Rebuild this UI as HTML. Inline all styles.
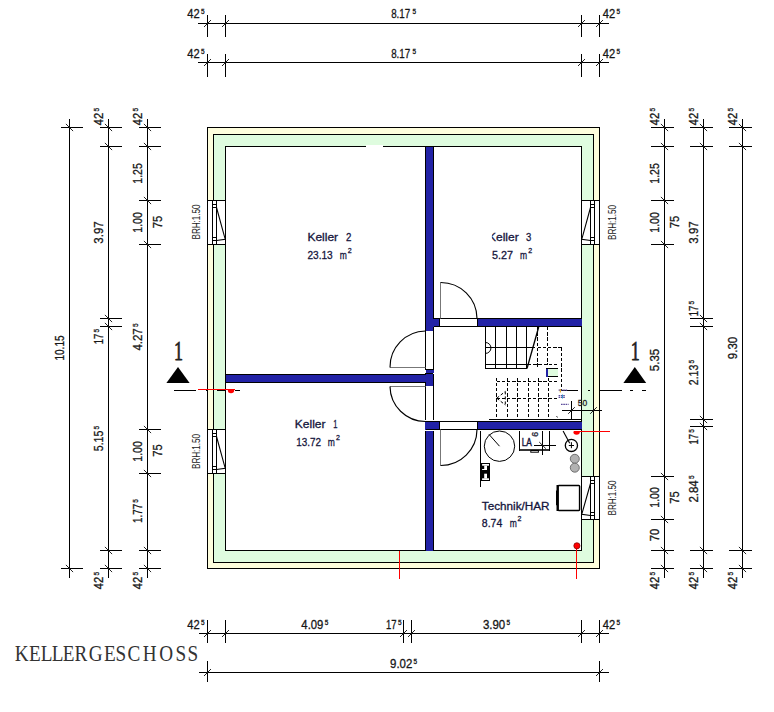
<!DOCTYPE html>
<html lang="de"><head><meta charset="utf-8"><title>Kellergeschoss</title>
<style>
html,body{margin:0;padding:0;background:#fff;}
body{width:774px;height:712px;overflow:hidden;}
svg{display:block;}
</style></head><body>
<svg width="774" height="712" viewBox="0 0 774 712">
<rect width="774" height="712" fill="#fff"/>
<g shape-rendering="crispEdges">
<rect x="207.5" y="127.5" width="392.0" height="441.0" fill="#fefedd" stroke="#000" stroke-width="1" />
<rect x="213.5" y="134.5" width="380.0" height="428.0" fill="#dffcdf" stroke="#000" stroke-width="1" />
<rect x="225.5" y="146.5" width="356.0" height="404.0" fill="#fff" stroke="#000" stroke-width="1" />
<rect x="366" y="145" width="17" height="3" fill="#fff" stroke="none" stroke-width="1" />
</g>
<g>
<rect x="207.5" y="200.5" width="18.0" height="44.0" fill="#fff" stroke="#000" stroke-width="1" shape-rendering="crispEdges"/>
<line x1="212.5" y1="200.5" x2="212.5" y2="244.5" stroke="#000" stroke-width="1" shape-rendering="crispEdges"/>
<line x1="216.5" y1="200.5" x2="216.5" y2="244.5" stroke="#000" stroke-width="1" shape-rendering="crispEdges"/>
<line x1="212.5" y1="204.5" x2="216.5" y2="204.5" stroke="#000" stroke-width="1" />
<line x1="212.5" y1="207.5" x2="216.5" y2="207.5" stroke="#000" stroke-width="1" />
<line x1="212.5" y1="237.5" x2="216.5" y2="237.5" stroke="#000" stroke-width="1" />
<line x1="212.5" y1="240.5" x2="216.5" y2="240.5" stroke="#000" stroke-width="1" />
<polyline points="216.5,207.5 225.2,239.2 216.5,240.5" fill="none" stroke="#000" stroke-width="1.1"/>
</g>
<g>
<rect x="207.5" y="429.5" width="18.0" height="44.0" fill="#fff" stroke="#000" stroke-width="1" shape-rendering="crispEdges"/>
<line x1="212.5" y1="429.5" x2="212.5" y2="473.5" stroke="#000" stroke-width="1" shape-rendering="crispEdges"/>
<line x1="216.5" y1="429.5" x2="216.5" y2="473.5" stroke="#000" stroke-width="1" shape-rendering="crispEdges"/>
<line x1="212.5" y1="433.5" x2="216.5" y2="433.5" stroke="#000" stroke-width="1" />
<line x1="212.5" y1="436.5" x2="216.5" y2="436.5" stroke="#000" stroke-width="1" />
<line x1="212.5" y1="466.5" x2="216.5" y2="466.5" stroke="#000" stroke-width="1" />
<line x1="212.5" y1="469.5" x2="216.5" y2="469.5" stroke="#000" stroke-width="1" />
<polyline points="216.5,436.5 225.2,468.2 216.5,469.5" fill="none" stroke="#000" stroke-width="1.1"/>
</g>
<g>
<rect x="581.5" y="200.5" width="18.0" height="44.0" fill="#fff" stroke="#000" stroke-width="1" shape-rendering="crispEdges"/>
<line x1="590.5" y1="200.5" x2="590.5" y2="244.5" stroke="#000" stroke-width="1" shape-rendering="crispEdges"/>
<line x1="594.5" y1="200.5" x2="594.5" y2="244.5" stroke="#000" stroke-width="1" shape-rendering="crispEdges"/>
<line x1="590.5" y1="204.5" x2="594.5" y2="204.5" stroke="#000" stroke-width="1" />
<line x1="590.5" y1="207.5" x2="594.5" y2="207.5" stroke="#000" stroke-width="1" />
<line x1="590.5" y1="237.5" x2="594.5" y2="237.5" stroke="#000" stroke-width="1" />
<line x1="590.5" y1="240.5" x2="594.5" y2="240.5" stroke="#000" stroke-width="1" />
<polyline points="590.5,207.5 581.8,239.2 590.5,240.5" fill="none" stroke="#000" stroke-width="1.1"/>
</g>
<g>
<rect x="581.5" y="476.5" width="18.0" height="43.0" fill="#fff" stroke="#000" stroke-width="1" shape-rendering="crispEdges"/>
<line x1="590.5" y1="476.5" x2="590.5" y2="519.5" stroke="#000" stroke-width="1" shape-rendering="crispEdges"/>
<line x1="594.5" y1="476.5" x2="594.5" y2="519.5" stroke="#000" stroke-width="1" shape-rendering="crispEdges"/>
<line x1="590.5" y1="480.5" x2="594.5" y2="480.5" stroke="#000" stroke-width="1" />
<line x1="590.5" y1="483.5" x2="594.5" y2="483.5" stroke="#000" stroke-width="1" />
<line x1="590.5" y1="512.5" x2="594.5" y2="512.5" stroke="#000" stroke-width="1" />
<line x1="590.5" y1="515.5" x2="594.5" y2="515.5" stroke="#000" stroke-width="1" />
<polyline points="590.5,483.5 581.8,514.2 590.5,515.5" fill="none" stroke="#000" stroke-width="1.1"/>
</g>
<g shape-rendering="crispEdges">
<rect x="425.5" y="146.5" width="8.0" height="184.0" fill="#2222a6" stroke="none" stroke-width="1" />
<rect x="432.5" y="318.5" width="7.0" height="8.0" fill="#2222a6" stroke="none" stroke-width="1" />
<rect x="477.5" y="318.5" width="104.0" height="8.0" fill="#2222a6" stroke="none" stroke-width="1" />
<rect x="425.5" y="369.5" width="8.0" height="3.5" fill="#2222a6" stroke="none" stroke-width="1" />
<rect x="225.5" y="374.5" width="201.0" height="8.0" fill="#2222a6" stroke="none" stroke-width="1" />
<rect x="425.5" y="373.8" width="8.0" height="11.7" fill="#2222a6" stroke="none" stroke-width="1" />
<rect x="425.0" y="421.5" width="14.5" height="8.0" fill="#2222a6" stroke="none" stroke-width="1" />
<rect x="477.5" y="421.5" width="104.0" height="8.0" fill="#2222a6" stroke="none" stroke-width="1" />
<rect x="425.5" y="431" width="8.0" height="119.5" fill="#2222a6" stroke="none" stroke-width="1" />
<line x1="425.5" y1="146.5" x2="425.5" y2="369.5" stroke="#000" stroke-width="1" />
<line x1="433.5" y1="146.5" x2="433.5" y2="318.5" stroke="#000" stroke-width="1" />
<line x1="433.5" y1="326.5" x2="433.5" y2="369.5" stroke="#000" stroke-width="1" />
<line x1="433.5" y1="318.5" x2="581.5" y2="318.5" stroke="#000" stroke-width="1" />
<line x1="433.5" y1="326.5" x2="581.5" y2="326.5" stroke="#000" stroke-width="1" />
<line x1="439.5" y1="318.5" x2="439.5" y2="326.5" stroke="#000" stroke-width="1" />
<line x1="477.5" y1="318.5" x2="477.5" y2="326.5" stroke="#000" stroke-width="1" />
<line x1="425.5" y1="369.5" x2="433.5" y2="369.5" stroke="#000" stroke-width="1" />
<line x1="424.5" y1="373" x2="433" y2="373" stroke="#000" stroke-width="1" />
<line x1="225.5" y1="374.5" x2="425.5" y2="374.5" stroke="#000" stroke-width="1" />
<line x1="225.5" y1="382.5" x2="425.5" y2="382.5" stroke="#000" stroke-width="1" />
<line x1="433.5" y1="373.5" x2="433.5" y2="421.5" stroke="#000" stroke-width="1" />
<line x1="425.5" y1="382.5" x2="425.5" y2="421.5" stroke="#000" stroke-width="1" />
<line x1="425.5" y1="421.5" x2="581.5" y2="421.5" stroke="#000" stroke-width="1" />
<line x1="425.5" y1="429.5" x2="581.5" y2="429.5" stroke="#000" stroke-width="1" />
<line x1="439.5" y1="421.5" x2="439.5" y2="429.5" stroke="#000" stroke-width="1" />
<line x1="477.5" y1="421.5" x2="477.5" y2="429.5" stroke="#000" stroke-width="1" />
<line x1="425.5" y1="431" x2="425.5" y2="550.5" stroke="#000" stroke-width="1" />
<line x1="433.5" y1="431" x2="433.5" y2="550.5" stroke="#000" stroke-width="1" />
<line x1="425.0" y1="420.5" x2="434.0" y2="420.5" stroke="#fff" stroke-width="1" />
</g>
<line x1="440.5" y1="282.5" x2="440.5" y2="318.5" stroke="#777" stroke-width="1" />
<path d="M440.5,282.5 A36.2,36.2 0 0 1 477,318.5" fill="none" stroke="#000" stroke-width="1.15"/>
<line x1="390" y1="367.5" x2="425.5" y2="367.5" stroke="#777" stroke-width="1" />
<path d="M425.5,331 A36,36 0 0 0 390,367.5" fill="none" stroke="#000" stroke-width="1.15"/>
<line x1="390" y1="386.5" x2="425.5" y2="386.5" stroke="#777" stroke-width="1" />
<path d="M390,386.5 A35.5,35.5 0 0 0 425.5,421.5" fill="none" stroke="#000" stroke-width="1.15"/>
<line x1="440.5" y1="429.5" x2="440.5" y2="465.5" stroke="#777" stroke-width="1" />
<path d="M440.5,465.5 A36.2,36.2 0 0 0 477,429.5" fill="none" stroke="#000" stroke-width="1.15"/>
<g>
<line x1="485.5" y1="327" x2="485.5" y2="368.5" stroke="#000" stroke-width="1" shape-rendering="crispEdges"/>
<line x1="495.5" y1="327" x2="495.5" y2="368.5" stroke="#000" stroke-width="1" shape-rendering="crispEdges"/>
<line x1="506.5" y1="327" x2="506.5" y2="368.5" stroke="#000" stroke-width="1" shape-rendering="crispEdges"/>
<line x1="516.5" y1="327" x2="516.5" y2="368.5" stroke="#000" stroke-width="1" shape-rendering="crispEdges"/>
<line x1="526.5" y1="327" x2="526.5" y2="368.5" stroke="#000" stroke-width="1" shape-rendering="crispEdges"/>
<line x1="485.5" y1="347.5" x2="535" y2="347.5" stroke="#000" stroke-width="1" shape-rendering="crispEdges"/>
<line x1="485.5" y1="364.5" x2="528.5" y2="364.5" stroke="#000" stroke-width="1" shape-rendering="crispEdges"/>
<line x1="485.5" y1="368.5" x2="527" y2="368.5" stroke="#000" stroke-width="1" shape-rendering="crispEdges"/>
<line x1="538.7" y1="327" x2="527" y2="368.5" stroke="#000" stroke-width="1.3" />
<path d="M485.5,342.5 A5.4,5.4 0 0 1 485.5,353.4" fill="none" stroke="#000" stroke-width="1"/>
<line x1="537.5" y1="327" x2="537.5" y2="368" stroke="#000" stroke-width="1" stroke-dasharray="3.4 1.8" shape-rendering="crispEdges"/>
<line x1="547.5" y1="327" x2="547.5" y2="364.5" stroke="#000" stroke-width="1" stroke-dasharray="3.4 1.8" shape-rendering="crispEdges"/>
<line x1="561.5" y1="347.5" x2="561.5" y2="389.5" stroke="#000" stroke-width="1" stroke-dasharray="3.4 1.8" shape-rendering="crispEdges"/>
<line x1="537.5" y1="347.5" x2="561.5" y2="347.5" stroke="#000" stroke-width="1" stroke-dasharray="3.4 1.8" shape-rendering="crispEdges"/>
<line x1="528" y1="364.5" x2="559" y2="364.5" stroke="#000" stroke-width="1" stroke-dasharray="3.4 1.8" shape-rendering="crispEdges"/>
<rect x="546.5" y="369" width="11.5" height="7.5" fill="#dffcdf" stroke="none" stroke-width="1" />
<line x1="546" y1="368.5" x2="558" y2="368.5" stroke="#000" stroke-width="1" shape-rendering="crispEdges"/>
<line x1="546" y1="376.5" x2="558" y2="376.5" stroke="#000" stroke-width="1" shape-rendering="crispEdges"/>
<line x1="547" y1="368.5" x2="547" y2="376.5" stroke="#2222a6" stroke-width="2" shape-rendering="crispEdges"/>
<line x1="496.5" y1="377.5" x2="496.5" y2="418.5" stroke="#000" stroke-width="1" stroke-dasharray="3.4 1.8" shape-rendering="crispEdges"/>
<line x1="507.5" y1="377.5" x2="507.5" y2="418.5" stroke="#000" stroke-width="1" stroke-dasharray="3.4 1.8" shape-rendering="crispEdges"/>
<line x1="517.5" y1="377.5" x2="517.5" y2="418.5" stroke="#000" stroke-width="1" stroke-dasharray="3.4 1.8" shape-rendering="crispEdges"/>
<line x1="528.5" y1="377.5" x2="528.5" y2="418.5" stroke="#000" stroke-width="1" stroke-dasharray="3.4 1.8" shape-rendering="crispEdges"/>
<line x1="538.5" y1="377.5" x2="538.5" y2="418.5" stroke="#000" stroke-width="1" stroke-dasharray="3.4 1.8" shape-rendering="crispEdges"/>
<line x1="548.5" y1="377.5" x2="548.5" y2="418.5" stroke="#000" stroke-width="1" stroke-dasharray="3.4 1.8" shape-rendering="crispEdges"/>
<line x1="496.5" y1="381.5" x2="558.5" y2="381.5" stroke="#000" stroke-width="1" stroke-dasharray="3.4 1.8" shape-rendering="crispEdges"/>
<line x1="496.5" y1="398.5" x2="558.5" y2="398.5" stroke="#000" stroke-width="1" stroke-dasharray="3.4 1.8" shape-rendering="crispEdges"/>
<line x1="496.8" y1="398.2" x2="505.3" y2="391.4" stroke="#000" stroke-width="1" stroke-dasharray="3 2"/>
<line x1="496.8" y1="398.2" x2="505.3" y2="405" stroke="#000" stroke-width="1" stroke-dasharray="3 2"/>
<line x1="505.3" y1="391.4" x2="505.3" y2="405" stroke="#000" stroke-width="1" stroke-dasharray="3 2"/>
<line x1="489" y1="419.5" x2="581.5" y2="419.5" stroke="#000" stroke-width="1" shape-rendering="crispEdges"/>
</g>
<g>
<circle cx="499.5" cy="446.2" r="15.2" fill="#fff" stroke="#000" stroke-width="1"/>
<line x1="489" y1="434.4" x2="499.5" y2="446.2" stroke="#000" stroke-width="1" />
<line x1="480.5" y1="431" x2="480.5" y2="487" stroke="#000" stroke-width="1" shape-rendering="crispEdges"/>
<rect x="480" y="463" width="10" height="18" fill="#000" stroke="none" stroke-width="1" />
<rect x="482.1" y="464" width="6.9" height="1.7" fill="#fff" stroke="none" stroke-width="1" />
<rect x="484.2" y="465.7" width="2.8" height="4.3" fill="#fff" stroke="none" stroke-width="1" />
<rect x="482.1" y="469" width="3.9" height="1" fill="#fff" stroke="none" stroke-width="1" />
<rect x="484.2" y="473.7" width="2.8" height="4.8" fill="#fff" stroke="none" stroke-width="1" />
<rect x="482.1" y="478.3" width="6.9" height="1.7" fill="#fff" stroke="none" stroke-width="1" />
<line x1="519.5" y1="431" x2="519.5" y2="450.5" stroke="#000" stroke-width="1" shape-rendering="crispEdges"/>
<line x1="519" y1="450" x2="550" y2="450" stroke="#000" stroke-width="1.6" />
<line x1="542.5" y1="431" x2="542.5" y2="455" stroke="#000" stroke-width="1" shape-rendering="crispEdges"/>
<line x1="549.5" y1="431" x2="549.5" y2="450.5" stroke="#000" stroke-width="1" shape-rendering="crispEdges"/>
<rect x="530.8" y="450.5" width="7.6" height="1.7" fill="#fff" stroke="#000" stroke-width="1" />
<line x1="534" y1="445.5" x2="556" y2="445.5" stroke="#000" stroke-width="1" shape-rendering="crispEdges"/>
<line x1="539.2" y1="442" x2="545.8" y2="448.6" stroke="#222" stroke-width="1" />
<circle cx="571.4" cy="445.4" r="6.1" fill="#fff" stroke="#000" stroke-width="1.3"/>
<line x1="563.1" y1="431" x2="569.7" y2="443.2" stroke="#000" stroke-width="1.1" />
<line x1="568.8" y1="445.5" x2="574" y2="445.5" stroke="#000" stroke-width="1" />
<line x1="571.4" y1="442.2" x2="571.4" y2="448.2" stroke="#000" stroke-width="1" />
<circle cx="574.8" cy="458.8" r="4.5" fill="#b2b2b2" stroke="#666" stroke-width="0.9"/>
<circle cx="574.8" cy="467.7" r="4.5" fill="#b2b2b2" stroke="#666" stroke-width="0.9"/>
<rect x="558" y="485.4" width="21.6" height="25.0" fill="#fff" stroke="#000" stroke-width="1.5" rx="0.8"/>
<line x1="557.6" y1="485" x2="557.6" y2="511" stroke="#000" stroke-width="2.2" />
<line x1="556.6" y1="490.4" x2="556.6" y2="505.2" stroke="#000" stroke-width="1.2" />
</g>
<polygon points="178,367 166.4,383 189.6,383" fill="#000"/>
<polygon points="634.8,367 623.4,383 646.1999999999999,383" fill="#000"/>
<line x1="174" y1="390.5" x2="196" y2="390.5" stroke="#000" stroke-width="1" shape-rendering="crispEdges"/>
<line x1="205.5" y1="390.5" x2="208" y2="390.5" stroke="#000" stroke-width="1" shape-rendering="crispEdges"/>
<line x1="217" y1="390.5" x2="226" y2="390.5" stroke="#000" stroke-width="1" shape-rendering="crispEdges"/>
<line x1="234.5" y1="390.5" x2="240" y2="390.5" stroke="#000" stroke-width="1" shape-rendering="crispEdges"/>
<line x1="198" y1="389.5" x2="234.5" y2="389.5" stroke="#f00" stroke-width="1" shape-rendering="crispEdges"/>
<path d="M227.8,390 A3.2,3.2 0 0 0 234.2,390 Z" fill="#f00"/>
<line x1="560.5" y1="390.5" x2="578" y2="390.5" stroke="#000" stroke-width="1" shape-rendering="crispEdges"/>
<line x1="587.5" y1="390.5" x2="590" y2="390.5" stroke="#000" stroke-width="1" shape-rendering="crispEdges"/>
<line x1="599.5" y1="390.5" x2="622" y2="390.5" stroke="#000" stroke-width="1" shape-rendering="crispEdges"/>
<line x1="630" y1="390.5" x2="633" y2="390.5" stroke="#000" stroke-width="1" shape-rendering="crispEdges"/>
<line x1="642" y1="390.5" x2="646" y2="390.5" stroke="#000" stroke-width="1" shape-rendering="crispEdges"/>
<line x1="573.5" y1="431.5" x2="610" y2="431.5" stroke="#f00" stroke-width="1" shape-rendering="crispEdges"/>
<path d="M573.3,431.5 A3.3,3.3 0 0 0 579.9,431.5 Z" fill="#f00"/>
<line x1="399.5" y1="550.5" x2="399.5" y2="578.5" stroke="#f00" stroke-width="1" shape-rendering="crispEdges"/>
<line x1="576.5" y1="546" x2="576.5" y2="578.5" stroke="#f00" stroke-width="1" shape-rendering="crispEdges"/>
<circle cx="576.9" cy="545.8" r="3.1" fill="#f00" stroke="#700" stroke-width="0.7"/>
<line x1="558.6" y1="390.2" x2="567.5" y2="390.2" stroke="#5a4a9a" stroke-width="1.2" stroke-dasharray="1.6 0.7"/>
<line x1="558.6" y1="395.6" x2="565" y2="395.6" stroke="#5a4a9a" stroke-width="1.2" stroke-dasharray="1.6 0.7"/>
<line x1="558.6" y1="397.4" x2="565" y2="397.4" stroke="#5a4a9a" stroke-width="1.2" stroke-dasharray="1.6 0.7"/>
<line x1="561" y1="404.4" x2="568.6" y2="404.4" stroke="#5a4a9a" stroke-width="1.2" stroke-dasharray="1.6 0.7"/>
<line x1="560.3" y1="389" x2="560.3" y2="392.5" stroke="#d90" stroke-width="1" />
<line x1="562.5" y1="394.5" x2="562.5" y2="398.5" stroke="#39c" stroke-width="1" />
<line x1="556.5" y1="416" x2="557.5" y2="417.5" stroke="#333" stroke-width="1" />
<line x1="562" y1="410.5" x2="602" y2="410.5" stroke="#000" stroke-width="1" shape-rendering="crispEdges"/>
<line x1="571.5" y1="401" x2="571.5" y2="419.5" stroke="#000" stroke-width="1" shape-rendering="crispEdges"/>
<line x1="568.2" y1="413.8" x2="574.8" y2="407.2" stroke="#222" stroke-width="1" />
<line x1="590.2" y1="413.8" x2="596.8" y2="407.2" stroke="#222" stroke-width="1" />
<line x1="198" y1="23.5" x2="609" y2="23.5" stroke="#000" stroke-width="1" shape-rendering="crispEdges"/>
<line x1="207.5" y1="15.0" x2="207.5" y2="37.0" stroke="#000" stroke-width="1" shape-rendering="crispEdges"/>
<line x1="204.0" y1="27.0" x2="211.0" y2="20.0" stroke="#222" stroke-width="1" />
<line x1="225.5" y1="15.0" x2="225.5" y2="37.0" stroke="#000" stroke-width="1" shape-rendering="crispEdges"/>
<line x1="222.0" y1="27.0" x2="229.0" y2="20.0" stroke="#222" stroke-width="1" />
<line x1="581.5" y1="15.0" x2="581.5" y2="37.0" stroke="#000" stroke-width="1" shape-rendering="crispEdges"/>
<line x1="578.0" y1="27.0" x2="585.0" y2="20.0" stroke="#222" stroke-width="1" />
<line x1="599.5" y1="15.0" x2="599.5" y2="37.0" stroke="#000" stroke-width="1" shape-rendering="crispEdges"/>
<line x1="596.0" y1="27.0" x2="603.0" y2="20.0" stroke="#222" stroke-width="1" />
<line x1="198" y1="62.5" x2="609" y2="62.5" stroke="#000" stroke-width="1" shape-rendering="crispEdges"/>
<line x1="207.5" y1="54.0" x2="207.5" y2="76.8" stroke="#000" stroke-width="1" shape-rendering="crispEdges"/>
<line x1="204.0" y1="66.0" x2="211.0" y2="59.0" stroke="#222" stroke-width="1" />
<line x1="225.5" y1="54.0" x2="225.5" y2="76.8" stroke="#000" stroke-width="1" shape-rendering="crispEdges"/>
<line x1="222.0" y1="66.0" x2="229.0" y2="59.0" stroke="#222" stroke-width="1" />
<line x1="581.5" y1="54.0" x2="581.5" y2="76.8" stroke="#000" stroke-width="1" shape-rendering="crispEdges"/>
<line x1="578.0" y1="66.0" x2="585.0" y2="59.0" stroke="#222" stroke-width="1" />
<line x1="599.5" y1="54.0" x2="599.5" y2="76.8" stroke="#000" stroke-width="1" shape-rendering="crispEdges"/>
<line x1="596.0" y1="66.0" x2="603.0" y2="59.0" stroke="#222" stroke-width="1" />
<line x1="198.5" y1="633.5" x2="609" y2="633.5" stroke="#000" stroke-width="1" shape-rendering="crispEdges"/>
<line x1="207.5" y1="620.0" x2="207.5" y2="642.5" stroke="#000" stroke-width="1" shape-rendering="crispEdges"/>
<line x1="204.0" y1="637.0" x2="211.0" y2="630.0" stroke="#222" stroke-width="1" />
<line x1="225.5" y1="620.0" x2="225.5" y2="642.5" stroke="#000" stroke-width="1" shape-rendering="crispEdges"/>
<line x1="222.0" y1="637.0" x2="229.0" y2="630.0" stroke="#222" stroke-width="1" />
<line x1="403.5" y1="620.0" x2="403.5" y2="642.5" stroke="#000" stroke-width="1" shape-rendering="crispEdges"/>
<line x1="400.0" y1="637.0" x2="407.0" y2="630.0" stroke="#222" stroke-width="1" />
<line x1="411.5" y1="620.0" x2="411.5" y2="642.5" stroke="#000" stroke-width="1" shape-rendering="crispEdges"/>
<line x1="408.0" y1="637.0" x2="415.0" y2="630.0" stroke="#222" stroke-width="1" />
<line x1="581.5" y1="620.0" x2="581.5" y2="642.5" stroke="#000" stroke-width="1" shape-rendering="crispEdges"/>
<line x1="578.0" y1="637.0" x2="585.0" y2="630.0" stroke="#222" stroke-width="1" />
<line x1="599.5" y1="620.0" x2="599.5" y2="642.5" stroke="#000" stroke-width="1" shape-rendering="crispEdges"/>
<line x1="596.0" y1="637.0" x2="603.0" y2="630.0" stroke="#222" stroke-width="1" />
<line x1="198.5" y1="672.5" x2="609" y2="672.5" stroke="#000" stroke-width="1" shape-rendering="crispEdges"/>
<line x1="207.5" y1="660.5" x2="207.5" y2="681.5" stroke="#000" stroke-width="1" shape-rendering="crispEdges"/>
<line x1="204.0" y1="676.0" x2="211.0" y2="669.0" stroke="#222" stroke-width="1" />
<line x1="599.5" y1="660.5" x2="599.5" y2="681.5" stroke="#000" stroke-width="1" shape-rendering="crispEdges"/>
<line x1="596.0" y1="676.0" x2="603.0" y2="669.0" stroke="#222" stroke-width="1" />
<line x1="69.5" y1="119" x2="69.5" y2="577.5" stroke="#000" stroke-width="1" shape-rendering="crispEdges"/>
<line x1="61.0" y1="127.5" x2="83.0" y2="127.5" stroke="#000" stroke-width="1" shape-rendering="crispEdges"/>
<line x1="65.9" y1="123.9" x2="73.1" y2="131.1" stroke="#222" stroke-width="1" />
<line x1="61.0" y1="568.5" x2="83.0" y2="568.5" stroke="#000" stroke-width="1" shape-rendering="crispEdges"/>
<line x1="65.9" y1="564.9" x2="73.1" y2="572.1" stroke="#222" stroke-width="1" />
<line x1="108.5" y1="119" x2="108.5" y2="577.5" stroke="#000" stroke-width="1" shape-rendering="crispEdges"/>
<line x1="100.0" y1="127.5" x2="122.0" y2="127.5" stroke="#000" stroke-width="1" shape-rendering="crispEdges"/>
<line x1="104.9" y1="123.9" x2="112.1" y2="131.1" stroke="#222" stroke-width="1" />
<line x1="100.0" y1="146.5" x2="122.0" y2="146.5" stroke="#000" stroke-width="1" shape-rendering="crispEdges"/>
<line x1="104.9" y1="142.9" x2="112.1" y2="150.1" stroke="#222" stroke-width="1" />
<line x1="100.0" y1="318.5" x2="122.0" y2="318.5" stroke="#000" stroke-width="1" shape-rendering="crispEdges"/>
<line x1="104.9" y1="314.9" x2="112.1" y2="322.1" stroke="#222" stroke-width="1" />
<line x1="100.0" y1="326.5" x2="122.0" y2="326.5" stroke="#000" stroke-width="1" shape-rendering="crispEdges"/>
<line x1="104.9" y1="322.9" x2="112.1" y2="330.1" stroke="#222" stroke-width="1" />
<line x1="100.0" y1="550.5" x2="122.0" y2="550.5" stroke="#000" stroke-width="1" shape-rendering="crispEdges"/>
<line x1="104.9" y1="546.9" x2="112.1" y2="554.1" stroke="#222" stroke-width="1" />
<line x1="100.0" y1="568.5" x2="122.0" y2="568.5" stroke="#000" stroke-width="1" shape-rendering="crispEdges"/>
<line x1="104.9" y1="564.9" x2="112.1" y2="572.1" stroke="#222" stroke-width="1" />
<line x1="147.5" y1="119" x2="147.5" y2="577.5" stroke="#000" stroke-width="1" shape-rendering="crispEdges"/>
<line x1="139.0" y1="127.5" x2="161.0" y2="127.5" stroke="#000" stroke-width="1" shape-rendering="crispEdges"/>
<line x1="143.9" y1="123.9" x2="151.1" y2="131.1" stroke="#222" stroke-width="1" />
<line x1="139.0" y1="146.5" x2="161.0" y2="146.5" stroke="#000" stroke-width="1" shape-rendering="crispEdges"/>
<line x1="143.9" y1="142.9" x2="151.1" y2="150.1" stroke="#222" stroke-width="1" />
<line x1="139.0" y1="200.5" x2="161.0" y2="200.5" stroke="#000" stroke-width="1" shape-rendering="crispEdges"/>
<line x1="143.9" y1="196.9" x2="151.1" y2="204.1" stroke="#222" stroke-width="1" />
<line x1="139.0" y1="244.5" x2="161.0" y2="244.5" stroke="#000" stroke-width="1" shape-rendering="crispEdges"/>
<line x1="143.9" y1="240.9" x2="151.1" y2="248.1" stroke="#222" stroke-width="1" />
<line x1="139.0" y1="429.5" x2="161.0" y2="429.5" stroke="#000" stroke-width="1" shape-rendering="crispEdges"/>
<line x1="143.9" y1="425.9" x2="151.1" y2="433.1" stroke="#222" stroke-width="1" />
<line x1="139.0" y1="473.5" x2="161.0" y2="473.5" stroke="#000" stroke-width="1" shape-rendering="crispEdges"/>
<line x1="143.9" y1="469.9" x2="151.1" y2="477.1" stroke="#222" stroke-width="1" />
<line x1="139.0" y1="550.5" x2="161.0" y2="550.5" stroke="#000" stroke-width="1" shape-rendering="crispEdges"/>
<line x1="143.9" y1="546.9" x2="151.1" y2="554.1" stroke="#222" stroke-width="1" />
<line x1="139.0" y1="568.5" x2="161.0" y2="568.5" stroke="#000" stroke-width="1" shape-rendering="crispEdges"/>
<line x1="143.9" y1="564.9" x2="151.1" y2="572.1" stroke="#222" stroke-width="1" />
<line x1="664.5" y1="119" x2="664.5" y2="577.5" stroke="#000" stroke-width="1" shape-rendering="crispEdges"/>
<line x1="651.0" y1="127.5" x2="674.0" y2="127.5" stroke="#000" stroke-width="1" shape-rendering="crispEdges"/>
<line x1="660.9" y1="123.9" x2="668.1" y2="131.1" stroke="#222" stroke-width="1" />
<line x1="651.0" y1="146.5" x2="674.0" y2="146.5" stroke="#000" stroke-width="1" shape-rendering="crispEdges"/>
<line x1="660.9" y1="142.9" x2="668.1" y2="150.1" stroke="#222" stroke-width="1" />
<line x1="651.0" y1="200.5" x2="674.0" y2="200.5" stroke="#000" stroke-width="1" shape-rendering="crispEdges"/>
<line x1="660.9" y1="196.9" x2="668.1" y2="204.1" stroke="#222" stroke-width="1" />
<line x1="651.0" y1="244.5" x2="674.0" y2="244.5" stroke="#000" stroke-width="1" shape-rendering="crispEdges"/>
<line x1="660.9" y1="240.9" x2="668.1" y2="248.1" stroke="#222" stroke-width="1" />
<line x1="651.0" y1="476.5" x2="674.0" y2="476.5" stroke="#000" stroke-width="1" shape-rendering="crispEdges"/>
<line x1="660.9" y1="472.9" x2="668.1" y2="480.1" stroke="#222" stroke-width="1" />
<line x1="651.0" y1="519.5" x2="674.0" y2="519.5" stroke="#000" stroke-width="1" shape-rendering="crispEdges"/>
<line x1="660.9" y1="515.9" x2="668.1" y2="523.1" stroke="#222" stroke-width="1" />
<line x1="651.0" y1="550.5" x2="674.0" y2="550.5" stroke="#000" stroke-width="1" shape-rendering="crispEdges"/>
<line x1="660.9" y1="546.9" x2="668.1" y2="554.1" stroke="#222" stroke-width="1" />
<line x1="651.0" y1="568.5" x2="674.0" y2="568.5" stroke="#000" stroke-width="1" shape-rendering="crispEdges"/>
<line x1="660.9" y1="564.9" x2="668.1" y2="572.1" stroke="#222" stroke-width="1" />
<line x1="703.5" y1="119" x2="703.5" y2="577.5" stroke="#000" stroke-width="1" shape-rendering="crispEdges"/>
<line x1="690.0" y1="127.5" x2="713.0" y2="127.5" stroke="#000" stroke-width="1" shape-rendering="crispEdges"/>
<line x1="699.9" y1="123.9" x2="707.1" y2="131.1" stroke="#222" stroke-width="1" />
<line x1="690.0" y1="146.5" x2="713.0" y2="146.5" stroke="#000" stroke-width="1" shape-rendering="crispEdges"/>
<line x1="699.9" y1="142.9" x2="707.1" y2="150.1" stroke="#222" stroke-width="1" />
<line x1="690.0" y1="318.5" x2="713.0" y2="318.5" stroke="#000" stroke-width="1" shape-rendering="crispEdges"/>
<line x1="699.9" y1="314.9" x2="707.1" y2="322.1" stroke="#222" stroke-width="1" />
<line x1="690.0" y1="326.5" x2="713.0" y2="326.5" stroke="#000" stroke-width="1" shape-rendering="crispEdges"/>
<line x1="699.9" y1="322.9" x2="707.1" y2="330.1" stroke="#222" stroke-width="1" />
<line x1="690.0" y1="419.5" x2="713.0" y2="419.5" stroke="#000" stroke-width="1" shape-rendering="crispEdges"/>
<line x1="699.9" y1="415.9" x2="707.1" y2="423.1" stroke="#222" stroke-width="1" />
<line x1="690.0" y1="426.5" x2="713.0" y2="426.5" stroke="#000" stroke-width="1" shape-rendering="crispEdges"/>
<line x1="699.9" y1="422.9" x2="707.1" y2="430.1" stroke="#222" stroke-width="1" />
<line x1="690.0" y1="550.5" x2="713.0" y2="550.5" stroke="#000" stroke-width="1" shape-rendering="crispEdges"/>
<line x1="699.9" y1="546.9" x2="707.1" y2="554.1" stroke="#222" stroke-width="1" />
<line x1="690.0" y1="568.5" x2="713.0" y2="568.5" stroke="#000" stroke-width="1" shape-rendering="crispEdges"/>
<line x1="699.9" y1="564.9" x2="707.1" y2="572.1" stroke="#222" stroke-width="1" />
<line x1="742.5" y1="119" x2="742.5" y2="577.5" stroke="#000" stroke-width="1" shape-rendering="crispEdges"/>
<line x1="729.0" y1="127.5" x2="752.0" y2="127.5" stroke="#000" stroke-width="1" shape-rendering="crispEdges"/>
<line x1="738.9" y1="123.9" x2="746.1" y2="131.1" stroke="#222" stroke-width="1" />
<line x1="729.0" y1="146.5" x2="752.0" y2="146.5" stroke="#000" stroke-width="1" shape-rendering="crispEdges"/>
<line x1="738.9" y1="142.9" x2="746.1" y2="150.1" stroke="#222" stroke-width="1" />
<line x1="729.0" y1="550.5" x2="752.0" y2="550.5" stroke="#000" stroke-width="1" shape-rendering="crispEdges"/>
<line x1="738.9" y1="546.9" x2="746.1" y2="554.1" stroke="#222" stroke-width="1" />
<line x1="729.0" y1="568.5" x2="752.0" y2="568.5" stroke="#000" stroke-width="1" shape-rendering="crispEdges"/>
<line x1="738.9" y1="564.9" x2="746.1" y2="572.1" stroke="#222" stroke-width="1" />
<g font-family="'Liberation Sans', sans-serif" stroke-width="0.3">
<g transform="translate(196,17.8)" fill="#161616" stroke="#161616"><text x="-8.65" y="0" font-size="12" textLength="12.4" lengthAdjust="spacingAndGlyphs">42</text><text x="5.05" y="-3.6" font-size="7" textLength="3.6" lengthAdjust="spacingAndGlyphs">5</text></g>
<g transform="translate(403.6,17.8)" fill="#161616" stroke="#161616"><text x="-12.45" y="0" font-size="12" textLength="19" lengthAdjust="spacingAndGlyphs">8.17</text><text x="8.85" y="-3.6" font-size="7" textLength="3.6" lengthAdjust="spacingAndGlyphs">5</text></g>
<g transform="translate(611.4,17.8)" fill="#161616" stroke="#161616"><text x="-8.65" y="0" font-size="12" textLength="12.4" lengthAdjust="spacingAndGlyphs">42</text><text x="5.05" y="-3.6" font-size="7" textLength="3.6" lengthAdjust="spacingAndGlyphs">5</text></g>
<g transform="translate(196,57.9)" fill="#161616" stroke="#161616"><text x="-8.65" y="0" font-size="12" textLength="12.4" lengthAdjust="spacingAndGlyphs">42</text><text x="5.05" y="-3.6" font-size="7" textLength="3.6" lengthAdjust="spacingAndGlyphs">5</text></g>
<g transform="translate(403.6,57.9)" fill="#161616" stroke="#161616"><text x="-12.45" y="0" font-size="12" textLength="19" lengthAdjust="spacingAndGlyphs">8.17</text><text x="8.85" y="-3.6" font-size="7" textLength="3.6" lengthAdjust="spacingAndGlyphs">5</text></g>
<g transform="translate(611.4,57.9)" fill="#161616" stroke="#161616"><text x="-8.65" y="0" font-size="12" textLength="12.4" lengthAdjust="spacingAndGlyphs">42</text><text x="5.05" y="-3.6" font-size="7" textLength="3.6" lengthAdjust="spacingAndGlyphs">5</text></g>
<g transform="translate(196,628.9)" fill="#161616" stroke="#161616"><text x="-8.65" y="0" font-size="12" textLength="12.4" lengthAdjust="spacingAndGlyphs">42</text><text x="5.05" y="-3.6" font-size="7" textLength="3.6" lengthAdjust="spacingAndGlyphs">5</text></g>
<g transform="translate(314.8,628.9)" fill="#161616" stroke="#161616"><text x="-13.45" y="0" font-size="12" textLength="22" lengthAdjust="spacingAndGlyphs">4.09</text><text x="9.85" y="-3.6" font-size="7" textLength="3.6" lengthAdjust="spacingAndGlyphs">5</text></g>
<g transform="translate(393.8,628.9)" fill="#161616" stroke="#161616"><text x="-7.7" y="0" font-size="12" textLength="10.5" lengthAdjust="spacingAndGlyphs">17</text><text x="4.1" y="-3.6" font-size="7" textLength="3.6" lengthAdjust="spacingAndGlyphs">5</text></g>
<g transform="translate(496.5,628.9)" fill="#161616" stroke="#161616"><text x="-13.6" y="0" font-size="12" textLength="22.3" lengthAdjust="spacingAndGlyphs">3.90</text><text x="10.0" y="-3.6" font-size="7" textLength="3.6" lengthAdjust="spacingAndGlyphs">5</text></g>
<g transform="translate(611.4,628.9)" fill="#161616" stroke="#161616"><text x="-8.65" y="0" font-size="12" textLength="12.4" lengthAdjust="spacingAndGlyphs">42</text><text x="5.05" y="-3.6" font-size="7" textLength="3.6" lengthAdjust="spacingAndGlyphs">5</text></g>
<g transform="translate(403.6,667.8)" fill="#161616" stroke="#161616"><text x="-13.6" y="0" font-size="12" textLength="22.3" lengthAdjust="spacingAndGlyphs">9.02</text><text x="10.0" y="-3.6" font-size="7" textLength="3.6" lengthAdjust="spacingAndGlyphs">5</text></g>
<g transform="translate(63.8,348) rotate(-90)" fill="#161616" stroke="#161616"><text x="-12.5" y="0" font-size="12" textLength="25.0" lengthAdjust="spacingAndGlyphs">10.15</text></g>
<g transform="translate(102.8,116.5) rotate(-90)" fill="#161616" stroke="#161616"><text x="-8.65" y="0" font-size="12" textLength="12.4" lengthAdjust="spacingAndGlyphs">42</text><text x="5.05" y="-3.6" font-size="7" textLength="3.6" lengthAdjust="spacingAndGlyphs">5</text></g>
<g transform="translate(102.8,232.5) rotate(-90)" fill="#161616" stroke="#161616"><text x="-11.15" y="0" font-size="12" textLength="22.3" lengthAdjust="spacingAndGlyphs">3.97</text></g>
<g transform="translate(102.8,336.5) rotate(-90)" fill="#161616" stroke="#161616"><text x="-7.7" y="0" font-size="12" textLength="10.5" lengthAdjust="spacingAndGlyphs">17</text><text x="4.1" y="-3.6" font-size="7" textLength="3.6" lengthAdjust="spacingAndGlyphs">5</text></g>
<g transform="translate(102.8,438.5) rotate(-90)" fill="#161616" stroke="#161616"><text x="-12.65" y="0" font-size="12" textLength="20.4" lengthAdjust="spacingAndGlyphs">5.15</text><text x="9.05" y="-3.6" font-size="7" textLength="3.6" lengthAdjust="spacingAndGlyphs">5</text></g>
<g transform="translate(102.8,580.5) rotate(-90)" fill="#161616" stroke="#161616"><text x="-8.65" y="0" font-size="12" textLength="12.4" lengthAdjust="spacingAndGlyphs">42</text><text x="5.05" y="-3.6" font-size="7" textLength="3.6" lengthAdjust="spacingAndGlyphs">5</text></g>
<g transform="translate(141.8,116.5) rotate(-90)" fill="#161616" stroke="#161616"><text x="-8.65" y="0" font-size="12" textLength="12.4" lengthAdjust="spacingAndGlyphs">42</text><text x="5.05" y="-3.6" font-size="7" textLength="3.6" lengthAdjust="spacingAndGlyphs">5</text></g>
<g transform="translate(141.8,173.5) rotate(-90)" fill="#161616" stroke="#161616"><text x="-10.2" y="0" font-size="12" textLength="20.4" lengthAdjust="spacingAndGlyphs">1.25</text></g>
<g transform="translate(141.8,222.5) rotate(-90)" fill="#161616" stroke="#161616"><text x="-10.2" y="0" font-size="12" textLength="20.4" lengthAdjust="spacingAndGlyphs">1.00</text></g>
<g transform="translate(162.3,222) rotate(-90)" fill="#161616" stroke="#161616"><text x="-6.2" y="0" font-size="12" textLength="12.4" lengthAdjust="spacingAndGlyphs">75</text></g>
<g transform="translate(141.8,337) rotate(-90)" fill="#161616" stroke="#161616"><text x="-13.6" y="0" font-size="12" textLength="22.3" lengthAdjust="spacingAndGlyphs">4.27</text><text x="10.0" y="-3.6" font-size="7" textLength="3.6" lengthAdjust="spacingAndGlyphs">5</text></g>
<g transform="translate(141.8,451.5) rotate(-90)" fill="#161616" stroke="#161616"><text x="-10.2" y="0" font-size="12" textLength="20.4" lengthAdjust="spacingAndGlyphs">1.00</text></g>
<g transform="translate(162.3,450.6) rotate(-90)" fill="#161616" stroke="#161616"><text x="-6.2" y="0" font-size="12" textLength="12.4" lengthAdjust="spacingAndGlyphs">75</text></g>
<g transform="translate(141.8,511) rotate(-90)" fill="#161616" stroke="#161616"><text x="-11.95" y="0" font-size="12" textLength="19" lengthAdjust="spacingAndGlyphs">1.77</text><text x="8.35" y="-3.6" font-size="7" textLength="3.6" lengthAdjust="spacingAndGlyphs">5</text></g>
<g transform="translate(141.8,580.5) rotate(-90)" fill="#161616" stroke="#161616"><text x="-8.65" y="0" font-size="12" textLength="12.4" lengthAdjust="spacingAndGlyphs">42</text><text x="5.05" y="-3.6" font-size="7" textLength="3.6" lengthAdjust="spacingAndGlyphs">5</text></g>
<g transform="translate(658.8,116.5) rotate(-90)" fill="#161616" stroke="#161616"><text x="-8.65" y="0" font-size="12" textLength="12.4" lengthAdjust="spacingAndGlyphs">42</text><text x="5.05" y="-3.6" font-size="7" textLength="3.6" lengthAdjust="spacingAndGlyphs">5</text></g>
<g transform="translate(658.8,173.5) rotate(-90)" fill="#161616" stroke="#161616"><text x="-10.2" y="0" font-size="12" textLength="20.4" lengthAdjust="spacingAndGlyphs">1.25</text></g>
<g transform="translate(658.8,222.5) rotate(-90)" fill="#161616" stroke="#161616"><text x="-10.2" y="0" font-size="12" textLength="20.4" lengthAdjust="spacingAndGlyphs">1.00</text></g>
<g transform="translate(679,222) rotate(-90)" fill="#161616" stroke="#161616"><text x="-6.2" y="0" font-size="12" textLength="12.4" lengthAdjust="spacingAndGlyphs">75</text></g>
<g transform="translate(658.8,360) rotate(-90)" fill="#161616" stroke="#161616"><text x="-11.15" y="0" font-size="12" textLength="22.3" lengthAdjust="spacingAndGlyphs">5.35</text></g>
<g transform="translate(658.8,497.5) rotate(-90)" fill="#161616" stroke="#161616"><text x="-10.2" y="0" font-size="12" textLength="20.4" lengthAdjust="spacingAndGlyphs">1.00</text></g>
<g transform="translate(679,497.5) rotate(-90)" fill="#161616" stroke="#161616"><text x="-6.2" y="0" font-size="12" textLength="12.4" lengthAdjust="spacingAndGlyphs">75</text></g>
<g transform="translate(658.8,535) rotate(-90)" fill="#161616" stroke="#161616"><text x="-6.2" y="0" font-size="12" textLength="12.4" lengthAdjust="spacingAndGlyphs">70</text></g>
<g transform="translate(658.8,580.5) rotate(-90)" fill="#161616" stroke="#161616"><text x="-8.65" y="0" font-size="12" textLength="12.4" lengthAdjust="spacingAndGlyphs">42</text><text x="5.05" y="-3.6" font-size="7" textLength="3.6" lengthAdjust="spacingAndGlyphs">5</text></g>
<g transform="translate(697.8,116.5) rotate(-90)" fill="#161616" stroke="#161616"><text x="-8.65" y="0" font-size="12" textLength="12.4" lengthAdjust="spacingAndGlyphs">42</text><text x="5.05" y="-3.6" font-size="7" textLength="3.6" lengthAdjust="spacingAndGlyphs">5</text></g>
<g transform="translate(697.8,232.5) rotate(-90)" fill="#161616" stroke="#161616"><text x="-11.15" y="0" font-size="12" textLength="22.3" lengthAdjust="spacingAndGlyphs">3.97</text></g>
<g transform="translate(697.8,308.5) rotate(-90)" fill="#161616" stroke="#161616"><text x="-7.7" y="0" font-size="12" textLength="10.5" lengthAdjust="spacingAndGlyphs">17</text><text x="4.1" y="-3.6" font-size="7" textLength="3.6" lengthAdjust="spacingAndGlyphs">5</text></g>
<g transform="translate(697.8,372.5) rotate(-90)" fill="#161616" stroke="#161616"><text x="-12.65" y="0" font-size="12" textLength="20.4" lengthAdjust="spacingAndGlyphs">2.13</text><text x="9.05" y="-3.6" font-size="7" textLength="3.6" lengthAdjust="spacingAndGlyphs">5</text></g>
<g transform="translate(697.8,436.8) rotate(-90)" fill="#161616" stroke="#161616"><text x="-7.7" y="0" font-size="12" textLength="10.5" lengthAdjust="spacingAndGlyphs">17</text><text x="4.1" y="-3.6" font-size="7" textLength="3.6" lengthAdjust="spacingAndGlyphs">5</text></g>
<g transform="translate(697.8,489) rotate(-90)" fill="#161616" stroke="#161616"><text x="-13.6" y="0" font-size="12" textLength="22.3" lengthAdjust="spacingAndGlyphs">2.84</text><text x="10.0" y="-3.6" font-size="7" textLength="3.6" lengthAdjust="spacingAndGlyphs">5</text></g>
<g transform="translate(697.8,580.5) rotate(-90)" fill="#161616" stroke="#161616"><text x="-8.65" y="0" font-size="12" textLength="12.4" lengthAdjust="spacingAndGlyphs">42</text><text x="5.05" y="-3.6" font-size="7" textLength="3.6" lengthAdjust="spacingAndGlyphs">5</text></g>
<g transform="translate(737,116.5) rotate(-90)" fill="#161616" stroke="#161616"><text x="-8.65" y="0" font-size="12" textLength="12.4" lengthAdjust="spacingAndGlyphs">42</text><text x="5.05" y="-3.6" font-size="7" textLength="3.6" lengthAdjust="spacingAndGlyphs">5</text></g>
<g transform="translate(737,348) rotate(-90)" fill="#161616" stroke="#161616"><text x="-11.15" y="0" font-size="12" textLength="22.3" lengthAdjust="spacingAndGlyphs">9.30</text></g>
<g transform="translate(737,580.5) rotate(-90)" fill="#161616" stroke="#161616"><text x="-8.65" y="0" font-size="12" textLength="12.4" lengthAdjust="spacingAndGlyphs">42</text><text x="5.05" y="-3.6" font-size="7" textLength="3.6" lengthAdjust="spacingAndGlyphs">5</text></g>
<text transform="translate(200.3,222) rotate(-90)" font-size="10.5" text-anchor="middle" textLength="35" lengthAdjust="spacingAndGlyphs" fill="#222">BRH:1.50</text>
<text transform="translate(200.3,451.5) rotate(-90)" font-size="10.5" text-anchor="middle" textLength="35" lengthAdjust="spacingAndGlyphs" fill="#222">BRH:1.50</text>
<text transform="translate(616,222.5) rotate(-90)" font-size="10.5" text-anchor="middle" textLength="35" lengthAdjust="spacingAndGlyphs" fill="#222">BRH:1.50</text>
<text transform="translate(616,498) rotate(-90)" font-size="10.5" text-anchor="middle" textLength="35" lengthAdjust="spacingAndGlyphs" fill="#222">BRH:1.50</text>
<text x="577.8" y="405.9" font-size="9.6" textLength="9.4" lengthAdjust="spacingAndGlyphs" fill="#222" stroke="#222">50</text>
<text transform="translate(538,436.8) rotate(-90)" font-size="9.5" textLength="4.8" lengthAdjust="spacingAndGlyphs" fill="#223" stroke="#223">6</text>
<text x="521.7" y="446" font-size="10" textLength="10.2" lengthAdjust="spacingAndGlyphs" fill="#14143c" stroke="#14143c" stroke-width="0.4">LA</text>
<text x="307.4" y="240.7" font-size="11.7" textLength="30.7" lengthAdjust="spacingAndGlyphs" fill="#14143c" stroke="#14143c">Keller</text>
<text x="345.9" y="240.7" font-size="11.7" textLength="5.4" lengthAdjust="spacingAndGlyphs" fill="#14143c" stroke="#14143c">2</text>
<text x="307.4" y="258.8" font-size="11.7" textLength="25.3" lengthAdjust="spacingAndGlyphs" fill="#14143c" stroke="#14143c">23.13</text>
<text x="339.7" y="258.8" font-size="11.7" textLength="7.1" lengthAdjust="spacingAndGlyphs" fill="#14143c" stroke="#14143c">m</text>
<text x="347.8" y="253.3" font-size="7.5" textLength="3.9" lengthAdjust="spacingAndGlyphs" fill="#14143c" stroke="#14143c">2</text>
<text x="488" y="240.7" font-size="11.7" textLength="30.7" lengthAdjust="spacingAndGlyphs" fill="#14143c" stroke="#14143c">Keller</text>
<text x="526" y="240.7" font-size="11.7" textLength="5.3" lengthAdjust="spacingAndGlyphs" fill="#14143c" stroke="#14143c">3</text>
<rect x="484" y="230" width="7.9" height="13" fill="#fff" stroke="none" stroke-width="1" />
<text x="491.9" y="258.8" font-size="11.7" textLength="21" lengthAdjust="spacingAndGlyphs" fill="#14143c" stroke="#14143c">5.27</text>
<text x="520" y="258.8" font-size="11.7" textLength="7.1" lengthAdjust="spacingAndGlyphs" fill="#14143c" stroke="#14143c">m</text>
<text x="528.2" y="253.3" font-size="7.5" textLength="3.9" lengthAdjust="spacingAndGlyphs" fill="#14143c" stroke="#14143c">2</text>
<text x="294.8" y="427.6" font-size="11.7" textLength="30.7" lengthAdjust="spacingAndGlyphs" fill="#14143c" stroke="#14143c">Keller</text>
<text x="333.2" y="427.6" font-size="11.7" textLength="4.2" lengthAdjust="spacingAndGlyphs" fill="#14143c" stroke="#14143c">1</text>
<text x="296.2" y="445.7" font-size="11.7" textLength="24.8" lengthAdjust="spacingAndGlyphs" fill="#14143c" stroke="#14143c">13.72</text>
<text x="327.8" y="445.7" font-size="11.7" textLength="7.1" lengthAdjust="spacingAndGlyphs" fill="#14143c" stroke="#14143c">m</text>
<text x="336.1" y="440.2" font-size="7.5" textLength="3.9" lengthAdjust="spacingAndGlyphs" fill="#14143c" stroke="#14143c">2</text>
<text x="481.8" y="509.5" font-size="11.7" textLength="67.8" lengthAdjust="spacingAndGlyphs" fill="#14143c" stroke="#14143c">Technik/HAR</text>
<text x="481.8" y="526.6" font-size="11.7" textLength="20.5" lengthAdjust="spacingAndGlyphs" fill="#14143c" stroke="#14143c">8.74</text>
<text x="509.8" y="526.6" font-size="11.7" textLength="7.1" lengthAdjust="spacingAndGlyphs" fill="#14143c" stroke="#14143c">m</text>
<text x="517.6" y="521.1" font-size="7.5" textLength="3.9" lengthAdjust="spacingAndGlyphs" fill="#14143c" stroke="#14143c">2</text>
</g>
<g font-family="'Liberation Serif', serif">
<text transform="translate(178.4,359.7) scale(0.64,1)" font-size="28" text-anchor="middle" fill="#222" stroke="#222" stroke-width="0.8">1</text>
<text transform="translate(635.2,359.7) scale(0.64,1)" font-size="28" text-anchor="middle" fill="#222" stroke="#222" stroke-width="0.8">1</text>
<text transform="translate(0,660.7) scale(0.82,1)" x="17.89 35.29 49.68 63.1 76.57 90.98 108.38 126.69 140.75 155.43 174.05 194.36 213.92 228.68" y="0" font-size="23.4" fill="#333">KELLERGESCHOSS</text>
</g>
</svg>
</body></html>
